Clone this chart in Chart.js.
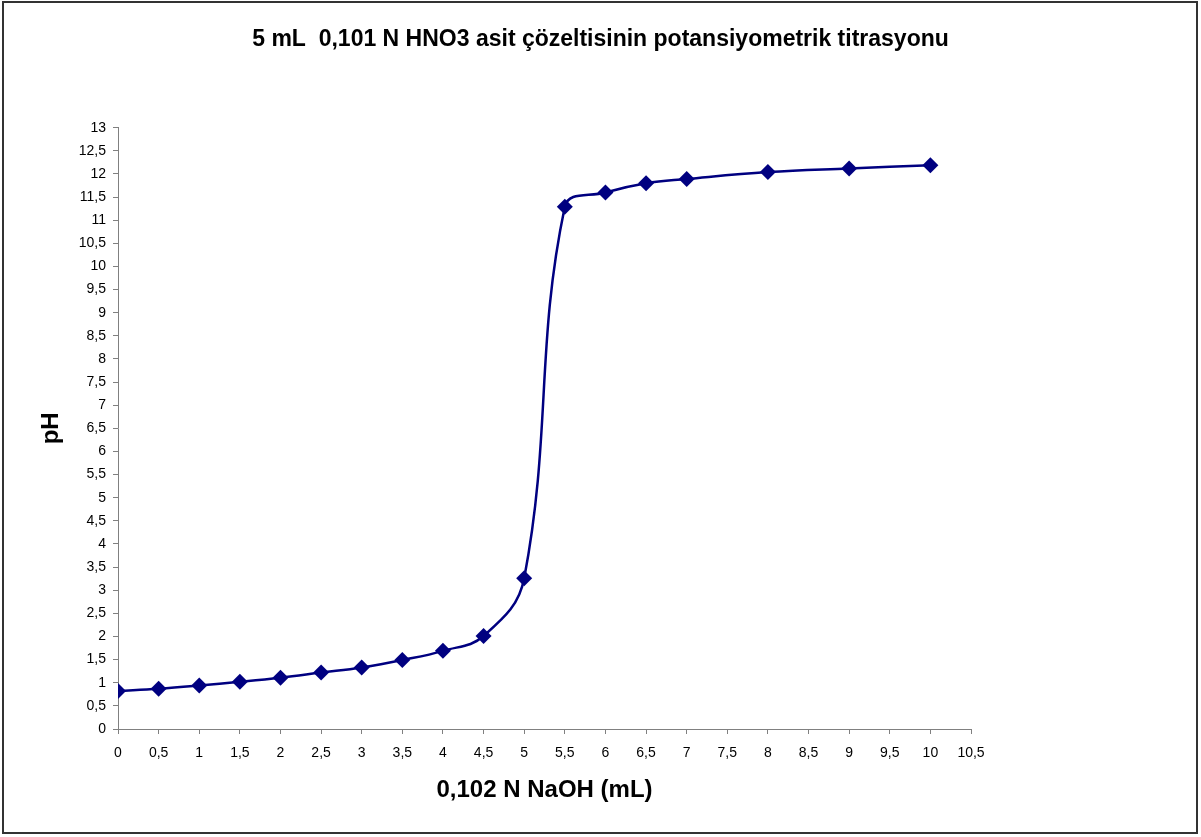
<!DOCTYPE html>
<html>
<head>
<meta charset="utf-8">
<script src="https://cdn.jsdelivr.net/npm/chart.js@4.4.0/dist/chart.umd.min.js"></script>
<style>
  html, body { margin: 0; padding: 0; background: #fff; }
  #wrap { width: 1201px; height: 837px; position: relative; }
</style>
</head>
<body>
<div id="wrap"><canvas id="grafik" width="1201" height="837"></canvas></div>
<script>
// NaOH hacmi (mL) ve olculen pH degerleri
var hacim = [0, 0.5, 1, 1.5, 2, 2.5, 3, 3.5, 4, 4.5, 5, 5.5, 6, 6.5, 7, 8, 9, 10];
var phDegerleri = [0.82, 0.87, 0.94, 1.02, 1.11, 1.22, 1.33, 1.49, 1.69, 2.01, 3.26, 11.29, 11.6, 11.8, 11.89, 12.04, 12.12, 12.19];

var baslik = '5 mL  0,101 N HNO3 asit çözeltisinin potansiyometrik titrasyonu';
var xBaslik = '0,102 N NaOH (mL)';
var yBaslik = 'pH';

var noktalar = hacim.map(function (v, i) { return { x: v, y: phDegerleri[i] }; });

function virgul(v) { return String(v).replace('.', ','); }

// dis cerceve
var cercevePlugin = {
  id: 'cerceve',
  beforeDraw: function (chart) {
    var c = chart.ctx;
    c.save();
    c.fillStyle = '#fff';
    c.fillRect(0, 0, chart.width, chart.height);
    c.strokeStyle = '#333';
    c.lineWidth = 2;
    c.strokeRect(3, 2, 1194, 831);
    c.restore();
  }
};

var gri = '#808080';
var yazi = 'Liberation Sans, Arial, sans-serif';
var ctx = document.getElementById('grafik').getContext('2d');
var grafik = new Chart(ctx, {
  type: 'scatter',
  data: {
    datasets: [{
      label: 'pH',
      data: noktalar,
      showLine: true,
      tension: 0.4,
      borderColor: '#000080',
      borderWidth: 2.5,
      backgroundColor: '#000080',
      pointStyle: 'rectRot',
      pointRadius: 8,
      pointHoverRadius: 8,
      pointBorderWidth: 0
    }]
  },
  options: {
    responsive: false,
    animation: false,
    layout: { padding: 0 },
    plugins: {
      legend: { display: false },
      tooltip: { enabled: false },
      title: {
        display: true,
        text: baslik,
        color: '#000',
        font: { family: yazi, size: 23, weight: 'bold', lineHeight: 1.2 },
        padding: { top: 26, bottom: 74.1 }
      }
    },
    scales: {
      x: {
        type: 'linear',
        min: 0,
        max: 10.5,
        afterFit: function (s) { s.height = 108; },
        border: { display: true, color: gri, width: 1 },
        grid: { display: true, drawOnChartArea: false, drawTicks: true, tickLength: 5, color: gri },
        ticks: {
          stepSize: 0.5,
          padding: 11,
          color: '#000',
          maxRotation: 0,
          autoSkip: false,
          font: { family: yazi, size: 14 },
          callback: function (v) { return virgul(v); }
        },
        title: {
          display: true,
          text: xBaslik,
          color: '#000',
          font: { family: yazi, size: 24, weight: 'bold', lineHeight: 1.2 },
          padding: { top: 0, bottom: 32 }
        }
      },
      y: {
        type: 'linear',
        position: 'left',
        min: 0,
        max: 13,
        afterFit: function (s) { s.width = 118; },
        border: { display: true, color: gri, width: 1 },
        grid: { display: true, drawOnChartArea: false, drawTicks: true, tickLength: 5, color: gri },
        ticks: {
          stepSize: 0.5,
          padding: 7,
          color: '#000',
          autoSkip: false,
          font: { family: yazi, size: 14 },
          callback: function (v) { return virgul(v); }
        },
        title: {
          display: true,
          text: yBaslik,
          color: '#000',
          font: { family: yazi, size: 24, weight: 'bold', lineHeight: 1.2 },
          padding: { top: 37, bottom: 0 }
        }
      },
      bos: {
        type: 'linear',
        position: 'right',
        min: 0,
        max: 1,
        afterFit: function (s) { s.width = 230; },
        border: { display: false },
        grid: { display: false },
        ticks: { display: false }
      }
    }
  },
  plugins: [cercevePlugin]
});
</script>
</body>
</html>
